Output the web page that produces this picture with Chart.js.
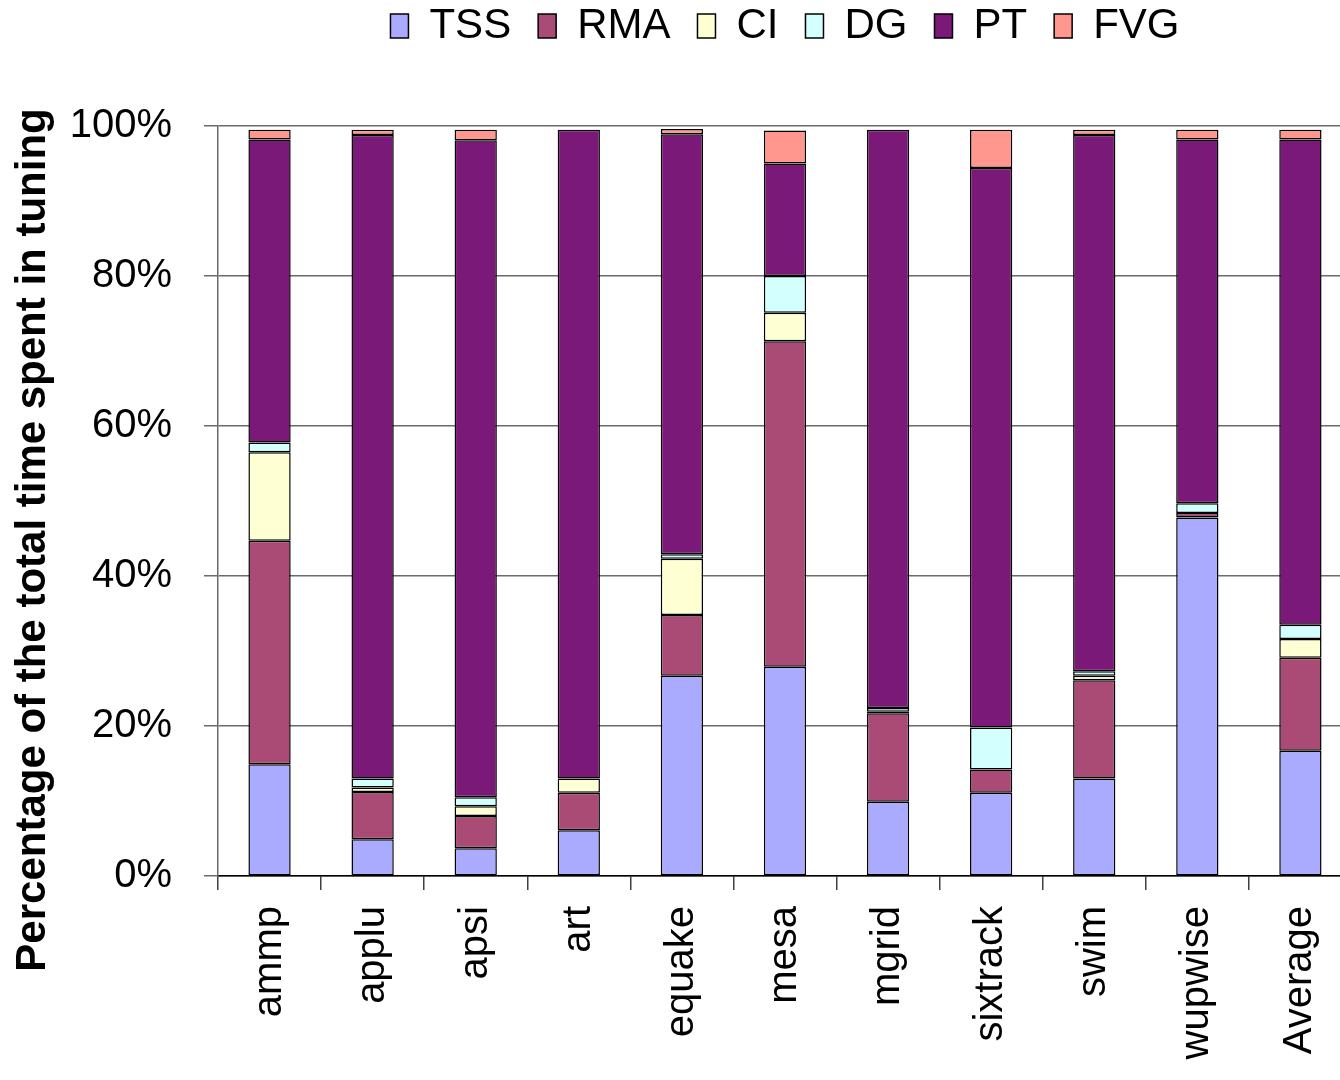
<!DOCTYPE html>
<html>
<head>
<meta charset="utf-8">
<script src="https://cdn.jsdelivr.net/npm/chart.js@4/dist/chart.umd.min.js"></script>
<style>
  html, body { margin: 0; padding: 0; background: #fff; overflow: hidden; }
  canvas { display: block; }
</style>
</head>
<body>
<canvas id="c" width="1365" height="1080"></canvas>
<script>
// Benchmarks and the share of tuning time (%) spent in each phase
const categories = ['ammp', 'applu', 'apsi', 'art', 'equake', 'mesa', 'mgrid', 'sixtrack', 'swim', 'wupwise', 'Average'];
const tss = [14.9, 4.9, 3.7, 6.1, 26.7, 27.9, 9.9, 11.1, 13.0, 47.8, 16.7];
const rma = [29.8, 6.3, 4.3, 5.0, 8.1, 43.4, 11.8, 3.1, 13.1, 0.6, 12.4];
const ci  = [11.8, 0.6, 1.3, 1.9, 7.5, 3.8, 0.2, 0, 0.6, 0, 2.5];
const dg  = [1.3, 1.2, 1.2, 0, 0.6, 4.9, 0.5, 5.6, 0.6, 1.3, 1.9];
const pt  = [40.4, 85.8, 87.6, 86.5, 56.0, 15.0, 77.1, 74.6, 71.5, 48.5, 64.7];
const fvg = [1.3, 0.7, 1.4, 0, 0.7, 4.4, 0, 5.1, 0.7, 1.3, 1.3];
const yTicks = [0, 20, 40, 60, 80, 100];

const FONT = "'Liberation Sans', Arial, sans-serif";

function series(label, data, color) {
  return {
    label, data,
    backgroundColor: color,
    borderColor: '#000',
    borderWidth: 1.5,
    borderSkipped: false,
    barPercentage: 0.41,
    categoryPercentage: 1.0
  };
}

// Legend sits near the top edge while its block reserves space down to the plot
const legendLayout = {
  id: 'legendLayout',
  beforeInit(chart) {
    const lg = chart.legend;
    if (!lg) return;
    const fit = lg.fit;
    lg.fit = function () {
      fit.call(lg);
      lg.height = 126;
    };
    const draw = lg.draw;
    lg.draw = function (...args) {
      const ctx = chart.ctx;
      ctx.save();
      ctx.translate(0, -22);
      draw.apply(lg, args);
      ctx.restore();
    };
  }
};

new Chart(document.getElementById('c'), {
  type: 'bar',
  data: {
    labels: categories,
    datasets: [
      series('TSS', tss, '#AAAAFF'),
      series('RMA', rma, '#A94B75'),
      series('CI', ci, '#FFFFD4'),
      series('DG', dg, '#D4FFFF'),
      series('PT', pt, '#7A1977'),
      series('FVG', fvg, '#FF978E')
    ]
  },
  options: {
    responsive: false,
    animation: false,
    layout: { padding: 0 },
    plugins: {
      tooltip: { enabled: false },
      legend: {
        position: 'top',
        fullSize: false,
        labels: {
          font: { family: FONT, size: 42 },
          color: '#000',
          boxWidth: 18,
          boxHeight: 24,
          padding: 27
        }
      },
      title: {
        display: true,
        position: 'left',
        text: 'Percentage of the total time spent in tuning',
        color: '#000',
        font: { family: FONT, size: 42, weight: 'bold' },
        padding: { top: 8, bottom: 12 }
      }
    },
    scales: {
      x: {
        stacked: true,
        offset: true,
        grid: {
          offset: true,
          drawOnChartArea: false,
          drawTicks: true,
          tickLength: 14,
          color: '#404040',
          lineWidth: 1.5
        },
        border: { display: true, color: '#000', width: 1.5 },
        ticks: {
          autoSkip: false,
          maxRotation: 90,
          minRotation: 90,
          padding: 16,
          color: '#000',
          font: { family: FONT, size: 40 }
        },
        afterFit(scale) { scale.height = 204; }
      },
      y: {
        stacked: true,
        min: 0,
        max: 100,
        afterBuildTicks(scale) { scale.ticks = yTicks.map(v => ({ value: v })); },
        grid: {
          color: '#6b6b6b',
          lineWidth: 1.5,
          tickLength: 14
        },
        border: { display: true, color: '#6b6b6b', width: 1.5 },
        ticks: {
          padding: 32,
          color: '#000',
          font: { family: FONT, size: 40 },
          callback: v => v + '%'
        },
        afterFit(scale) { scale.width = 218 - 70.4; }
      }
    }
  },
  plugins: [legendLayout]
});
</script>
</body>
</html>
